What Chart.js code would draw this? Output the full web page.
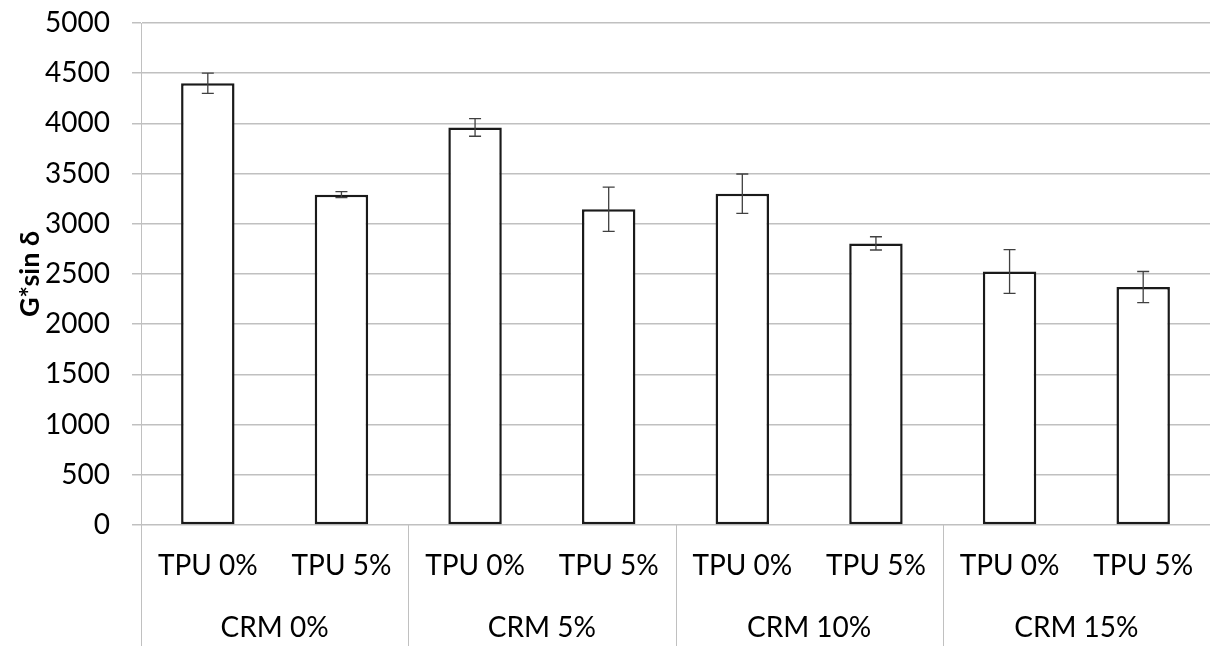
<!DOCTYPE html>
<html>
<head>
<meta charset="utf-8">
<script src="https://cdn.jsdelivr.net/npm/chart.js@4.4.1/dist/chart.umd.min.js"></script>
<style>
  html, body { margin: 0; padding: 0; background: #fff; }
  #wrap { width: 1210px; height: 646px; }
</style>
</head>
<body>
<div id="wrap"><canvas id="chart"></canvas></div>
<script>
// data
const tpuLabels = ['TPU 0%', 'TPU 5%', 'TPU 0%', 'TPU 5%', 'TPU 0%', 'TPU 5%', 'TPU 0%', 'TPU 5%'];
const crmGroups = ['CRM 0%', 'CRM 5%', 'CRM 10%', 'CRM 15%'];
const values = [4400, 3290, 3960, 3145, 3300, 2805, 2525, 2370];
const errors = [100, 30, 88, 220, 196, 66, 218, 155];
const yMin = 0, yMax = 5000, yStep = 500;

const FONT = "Lato, 'DejaVu Sans', sans-serif";
const GRID = '#c0c0c0';

// error bars drawn on top of the bars
const errorBars = {
    id: 'errorBars',
    afterDatasetsDraw(chart) {
        const ctx = chart.ctx;
        const y = chart.scales.y;
        const meta = chart.getDatasetMeta(0);
        ctx.save();
        ctx.strokeStyle = '#404040';
        ctx.lineWidth = 1.3;
        meta.data.forEach((bar, i) => {
            const top = y.getPixelForValue(values[i] + errors[i]);
            const bot = y.getPixelForValue(values[i] - errors[i]);
            ctx.beginPath();
            ctx.moveTo(bar.x, top); ctx.lineTo(bar.x, bot);
            ctx.moveTo(bar.x - 6, top); ctx.lineTo(bar.x + 6, top);
            ctx.moveTo(bar.x - 6, bot); ctx.lineTo(bar.x + 6, bot);
            ctx.stroke();
        });
        ctx.restore();
    }
};

// second level of the category axis: CRM groups and separators
const groupAxis = {
    id: 'groupAxis',
    afterDraw(chart) {
        const ctx = chart.ctx;
        const x = chart.scales.x;
        const area = chart.chartArea;
        const per = tpuLabels.length / crmGroups.length;
        ctx.save();
        ctx.strokeStyle = GRID;
        ctx.lineWidth = 1;
        for (let g = 0; g <= crmGroups.length; g++) {
            const px = Math.round(x.getPixelForValue(g * per - 0.5)) + 0.5;
            ctx.beginPath();
            ctx.moveTo(px, area.bottom);
            ctx.lineTo(px, chart.height);
            ctx.stroke();
        }
        ctx.fillStyle = '#000';
        ctx.font = '28px ' + FONT;
        ctx.textAlign = 'center';
        ctx.textBaseline = 'middle';
        crmGroups.forEach((name, g) => {
            const cx = x.getPixelForValue(g * per + (per - 1) / 2);
            ctx.fillText(name, cx, 628);
        });
        ctx.restore();
    }
};

const ctx = document.getElementById('chart').getContext('2d');
new Chart(ctx, {
    type: 'bar',
    data: {
        labels: tpuLabels,
        datasets: [{
            data: values,
            backgroundColor: '#ffffff',
            borderColor: '#1a1a1a',
            borderWidth: 2.5,
            borderSkipped: false,
            barPercentage: 0.4,
            categoryPercentage: 1
        }]
    },
    options: {
        responsive: true,
        maintainAspectRatio: false,
        animation: false,
        layout: { padding: { top: 23, left: 0, right: 0, bottom: 0 } },
        plugins: {
            legend: { display: false },
            tooltip: { enabled: false }
        },
        scales: {
            x: {
                grid: { display: false, drawTicks: true, tickLength: 24 },
                border: { display: false },
                ticks: {
                    color: '#000',
                    font: { family: FONT, size: 28 },
                    padding: 0,
                    maxRotation: 0,
                    autoSkip: false
                },
                afterFit: s => {
                    s.height = 121;
                    s.paddingLeft = 0;
                    s.paddingRight = 0;
                }
            },
            y: {
                min: yMin,
                max: yMax,
                ticks: {
                    stepSize: yStep,
                    color: '#000',
                    font: { family: FONT, size: 28 },
                    padding: 22,
                    callback: v => String(v)
                },
                grid: { color: GRID, lineWidth: 1.5, tickLength: 9 },
                border: { color: GRID, width: 1 },
                title: {
                    display: true,
                    text: 'G*sin δ',
                    color: '#000',
                    font: { family: FONT, size: 27, weight: 'bold' },
                    padding: 14
                },
                afterFit: s => {
                    s.width = 141;
                    s.paddingTop = 0;
                    s.paddingBottom = 0;
                }
            }
        }
    },
    plugins: [errorBars, groupAxis]
});
</script>
</body>
</html>
